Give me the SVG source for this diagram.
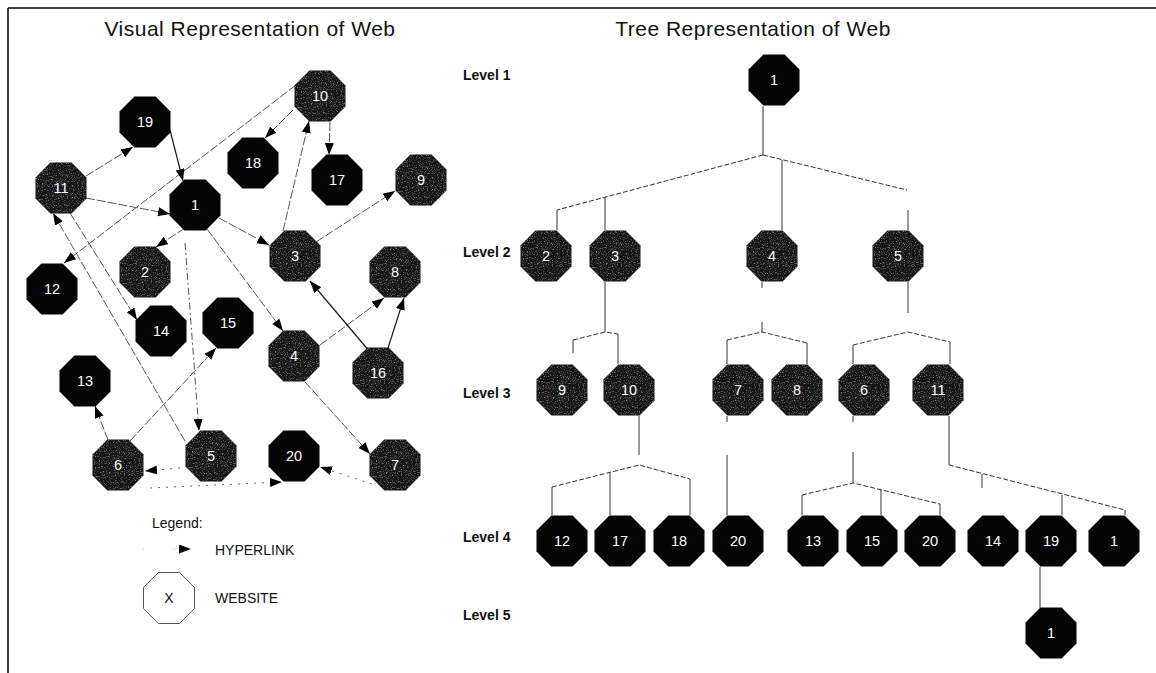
<svg xmlns="http://www.w3.org/2000/svg" xmlns:xlink="http://www.w3.org/1999/xlink" width="1156" height="673" viewBox="0 0 1156 673">
  <style>
    .title { font-family: "Liberation Sans", Arial, sans-serif; font-size: 21px; letter-spacing: 0.5px; fill: #111; text-anchor: middle; }
    .level { font-family: "Liberation Sans", Arial, sans-serif; font-size: 14px; font-weight: bold; fill: #111; }
    .legend { font-family: "Liberation Sans", Arial, sans-serif; font-size: 14px; fill: #111; }
    .lbl { font-family: "Liberation Sans", Arial, sans-serif; font-size: 14.5px; fill: #fff; text-anchor: middle; }
    .solid { fill: #050505; }
    .grainy { fill: #151515; filter: url(#grain); }
    .link { stroke: #555; stroke-width: 1; fill: none; stroke-dasharray: 9 2; marker-end: url(#arrow); }
    .link.dark { stroke: #1a1a1a; stroke-width: 1.2; stroke-dasharray: none; }
    .link.dashdot { stroke-dasharray: 7 3 2 3; }
    .link.dotted { stroke: #666; stroke-dasharray: 2 6; }
    .branch { stroke: #333; stroke-width: 1; fill: none; }
    .branch.dash { stroke-dasharray: 5 2; }
    .frame { stroke: #000; stroke-width: 1.5; fill: none; }
  </style>
  <defs>
    <polygon id="oct" points="-10.6,-25.5 10.6,-25.5 25.5,-10.6 25.5,10.6 10.6,25.5 -10.6,25.5 -25.5,10.6 -25.5,-10.6"/>
    <marker id="arrow" markerUnits="userSpaceOnUse" markerWidth="13" markerHeight="10" refX="12" refY="4.5" orient="auto">
      <path d="M0,0 L12,4.5 L0,9 Z" fill="#000"/>
    </marker>
    <!-- speckled texture for the shaded websites -->
    <filter id="grain" x="0" y="0" width="1" height="1" color-interpolation-filters="sRGB">
      <feTurbulence type="fractalNoise" baseFrequency="0.8" numOctaves="2" seed="7" result="noise"/>
      <feColorMatrix in="noise" type="matrix" values="0 0 0 0 0.62  0 0 0 0 0.62  0 0 0 0 0.62  2.8 0 0 0 -1.45" result="specks"/>
      <feComposite in="specks" in2="SourceAlpha" operator="in" result="clipped"/>
      <feMerge><feMergeNode in="SourceGraphic"/><feMergeNode in="clipped"/></feMerge>
    </filter>
  </defs>

  <rect width="1156" height="673" fill="#fff"/>
  <!-- frame: top and left rules -->
  <path class="frame" d="M8,8 H1156 M8,8 V673"/>

  <!-- headings -->
  <text class="title" x="250" y="36">Visual Representation of Web</text>
  <text class="title" x="753" y="36">Tree Representation of Web</text>

  <text class="level" x="463" y="80">Level 1</text>
  <text class="level" x="463" y="257">Level 2</text>
  <text class="level" x="463" y="398">Level 3</text>
  <text class="level" x="463" y="542">Level 4</text>
  <text class="level" x="463" y="620">Level 5</text>

  <!-- hyperlinks between websites -->
  <g id="web-links">
    <line class="link" x1="185" y1="228" x2="156" y2="247"/>
    <line class="link" x1="219" y1="218" x2="269" y2="245"/>
    <line class="link" x1="207" y1="229" x2="283" y2="331"/>
    <line class="link dashdot" x1="185" y1="243" x2="199" y2="431"/>
    <line class="link" x1="316" y1="242" x2="395" y2="191"/>
    <line class="link" x1="283" y1="231" x2="309" y2="121"/>
    <line class="link" x1="293" y1="110" x2="265" y2="138"/>
    <line class="link" x1="330" y1="122" x2="329" y2="155"/>
    <line class="link" x1="296" y1="85" x2="64" y2="263"/>
    <line class="link" x1="86" y1="176" x2="133" y2="147"/>
    <line class="link dark" x1="170" y1="130" x2="183" y2="181"/>
    <line class="link" x1="86" y1="198" x2="170" y2="214"/>
    <line class="link" x1="70" y1="213" x2="137" y2="320"/>
    <line class="link" x1="185" y1="441" x2="53" y2="213"/>
    <line class="link" x1="320" y1="345" x2="384" y2="298"/>
    <line class="link" x1="305" y1="382" x2="370" y2="454"/>
    <line class="link dark" x1="370" y1="352" x2="310" y2="281"/>
    <line class="link dark" x1="388" y1="348" x2="404" y2="298"/>
    <line class="link" x1="108" y1="440" x2="95" y2="406"/>
    <line class="link" x1="130" y1="441" x2="216" y2="348"/>
    <line class="link dotted" x1="180" y1="468" x2="145" y2="471"/>
    <line class="link dotted" x1="372" y1="484" x2="320" y2="467"/>
    <line class="link dotted" x1="150" y1="488" x2="282" y2="482"/>
  </g>

  <!-- tree branches -->
  <g id="tree-links">
    <!-- level 1 to level 2 -->
    <path class="branch" d="M763,106 V155"/>
    <path class="branch dash" d="M763,155 L557,210 M763,155 L907,190"/>
    <path class="branch" d="M557,210 V230 M605,197 V230 M782,160 V230 M908,210 V230"/>
    <!-- node 3 -->
    <path class="branch" d="M605,282 V332"/>
    <path class="branch dash" d="M573,340 L605,332 L618,334"/>
    <path class="branch" d="M573,340 V353 M618,334 V364"/>
    <!-- node 4 -->
    <path class="branch" d="M762,282 V288 M762,322 V332"/>
    <path class="branch dash" d="M727,340 L762,332 L807,343"/>
    <path class="branch" d="M727,340 V364 M807,343 V364"/>
    <!-- node 5 -->
    <path class="branch" d="M908,282 V313"/>
    <path class="branch dash" d="M853,345 L908,332 L950,342"/>
    <path class="branch" d="M853,345 V364 M950,342 V364"/>
    <!-- node 10 -->
    <path class="branch" d="M639,416 V455"/>
    <path class="branch dash" d="M552,487 L639,465 L690,479"/>
    <path class="branch" d="M552,487 V515 M610,473 V515 M690,479 V515"/>
    <!-- node 7 -->
    <path class="branch" d="M727,416 V422 M727,455 V515"/>
    <!-- node 6 -->
    <path class="branch" d="M853,416 V422 M853,452 V483"/>
    <path class="branch dash" d="M802,495 L853,483 L940,504"/>
    <path class="branch" d="M802,495 V515 M881,489 V515 M940,504 V515"/>
    <!-- node 11 -->
    <path class="branch" d="M949,416 V465"/>
    <path class="branch dash" d="M949,465 L1125,510"/>
    <path class="branch" d="M982,474 V488 M1062,495 V515 M1125,510 V515"/>
    <!-- node 19 to level 5 -->
    <path class="branch" d="M1040,567 V608"/>
  </g>

  <!-- websites, linked view -->
  <g id="web-1"><use href="#oct" x="195" y="205" class="solid"/><text class="lbl" x="195" y="210">1</text></g>
  <g id="web-2"><use href="#oct" x="145" y="272" class="grainy"/><text class="lbl" x="145" y="277">2</text></g>
  <g id="web-3"><use href="#oct" x="295" y="256" class="grainy"/><text class="lbl" x="295" y="261">3</text></g>
  <g id="web-4"><use href="#oct" x="294" y="356" class="grainy"/><text class="lbl" x="294" y="361">4</text></g>
  <g id="web-5"><use href="#oct" x="211" y="456" class="grainy"/><text class="lbl" x="211" y="461">5</text></g>
  <g id="web-6"><use href="#oct" x="118" y="465" class="grainy"/><text class="lbl" x="118" y="470">6</text></g>
  <g id="web-7"><use href="#oct" x="395" y="465" class="grainy"/><text class="lbl" x="395" y="470">7</text></g>
  <g id="web-8"><use href="#oct" x="395" y="272" class="grainy"/><text class="lbl" x="395" y="277">8</text></g>
  <g id="web-9"><use href="#oct" x="421" y="180" class="grainy"/><text class="lbl" x="421" y="185">9</text></g>
  <g id="web-10"><use href="#oct" x="320" y="96" class="grainy"/><text class="lbl" x="320" y="101">10</text></g>
  <g id="web-11"><use href="#oct" x="61" y="188" class="grainy"/><text class="lbl" x="61" y="193">11</text></g>
  <g id="web-12"><use href="#oct" x="52" y="289" class="solid"/><text class="lbl" x="52" y="294">12</text></g>
  <g id="web-13"><use href="#oct" x="85" y="381" class="solid"/><text class="lbl" x="85" y="386">13</text></g>
  <g id="web-14"><use href="#oct" x="161" y="331" class="solid"/><text class="lbl" x="161" y="336">14</text></g>
  <g id="web-15"><use href="#oct" x="228" y="323" class="solid"/><text class="lbl" x="228" y="328">15</text></g>
  <g id="web-16"><use href="#oct" x="378" y="373" class="grainy"/><text class="lbl" x="378" y="378">16</text></g>
  <g id="web-17"><use href="#oct" x="337" y="180" class="solid"/><text class="lbl" x="337" y="185">17</text></g>
  <g id="web-18"><use href="#oct" x="253" y="163" class="solid"/><text class="lbl" x="253" y="168">18</text></g>
  <g id="web-19"><use href="#oct" x="145" y="122" class="solid"/><text class="lbl" x="145" y="127">19</text></g>
  <g id="web-20"><use href="#oct" x="294" y="456" class="solid"/><text class="lbl" x="294" y="461">20</text></g>

  <!-- websites, tree view -->
  <g id="tree-l1-1"><use href="#oct" x="774" y="80" class="solid"/><text class="lbl" x="774" y="85">1</text></g>
  <g id="tree-l2-2"><use href="#oct" x="546" y="256" class="grainy"/><text class="lbl" x="546" y="261">2</text></g>
  <g id="tree-l2-3"><use href="#oct" x="615" y="256" class="grainy"/><text class="lbl" x="615" y="261">3</text></g>
  <g id="tree-l2-4"><use href="#oct" x="772" y="256" class="grainy"/><text class="lbl" x="772" y="261">4</text></g>
  <g id="tree-l2-5"><use href="#oct" x="898" y="256" class="grainy"/><text class="lbl" x="898" y="261">5</text></g>
  <g id="tree-l3-9"><use href="#oct" x="562" y="390" class="grainy"/><text class="lbl" x="562" y="395">9</text></g>
  <g id="tree-l3-10"><use href="#oct" x="629" y="390" class="grainy"/><text class="lbl" x="629" y="395">10</text></g>
  <g id="tree-l3-7"><use href="#oct" x="738" y="390" class="grainy"/><text class="lbl" x="738" y="395">7</text></g>
  <g id="tree-l3-8"><use href="#oct" x="797" y="390" class="grainy"/><text class="lbl" x="797" y="395">8</text></g>
  <g id="tree-l3-6"><use href="#oct" x="864" y="390" class="grainy"/><text class="lbl" x="864" y="395">6</text></g>
  <g id="tree-l3-11"><use href="#oct" x="938" y="390" class="grainy"/><text class="lbl" x="938" y="395">11</text></g>
  <g id="tree-l4-12"><use href="#oct" x="562" y="541" class="solid"/><text class="lbl" x="562" y="546">12</text></g>
  <g id="tree-l4-17"><use href="#oct" x="620" y="541" class="solid"/><text class="lbl" x="620" y="546">17</text></g>
  <g id="tree-l4-18"><use href="#oct" x="679" y="541" class="solid"/><text class="lbl" x="679" y="546">18</text></g>
  <g id="tree-l4-20a"><use href="#oct" x="738" y="541" class="solid"/><text class="lbl" x="738" y="546">20</text></g>
  <g id="tree-l4-13"><use href="#oct" x="813" y="541" class="solid"/><text class="lbl" x="813" y="546">13</text></g>
  <g id="tree-l4-15"><use href="#oct" x="872" y="541" class="solid"/><text class="lbl" x="872" y="546">15</text></g>
  <g id="tree-l4-20b"><use href="#oct" x="930" y="541" class="solid"/><text class="lbl" x="930" y="546">20</text></g>
  <g id="tree-l4-14"><use href="#oct" x="993" y="541" class="solid"/><text class="lbl" x="993" y="546">14</text></g>
  <g id="tree-l4-19"><use href="#oct" x="1051" y="541" class="solid"/><text class="lbl" x="1051" y="546">19</text></g>
  <g id="tree-l4-1"><use href="#oct" x="1114" y="541" class="solid"/><text class="lbl" x="1114" y="546">1</text></g>
  <g id="tree-l5-1"><use href="#oct" x="1051" y="633" class="solid"/><text class="lbl" x="1051" y="638">1</text></g>

  <!-- legend -->
  <g id="legend">
    <text class="legend" x="152" y="528">Legend:</text>
    <line x1="143" y1="549" x2="191" y2="549" stroke="#bbb" stroke-width="1" stroke-dasharray="1 30" marker-end="url(#arrow)"/>
    <text class="legend" x="215" y="555">HYPERLINK</text>
    <use href="#oct" x="169" y="598" fill="none" stroke="#555" stroke-width="1"/>
    <text class="legend" x="169" y="603" text-anchor="middle">X</text>
    <text class="legend" x="215" y="603">WEBSITE</text>
  </g>
</svg>
